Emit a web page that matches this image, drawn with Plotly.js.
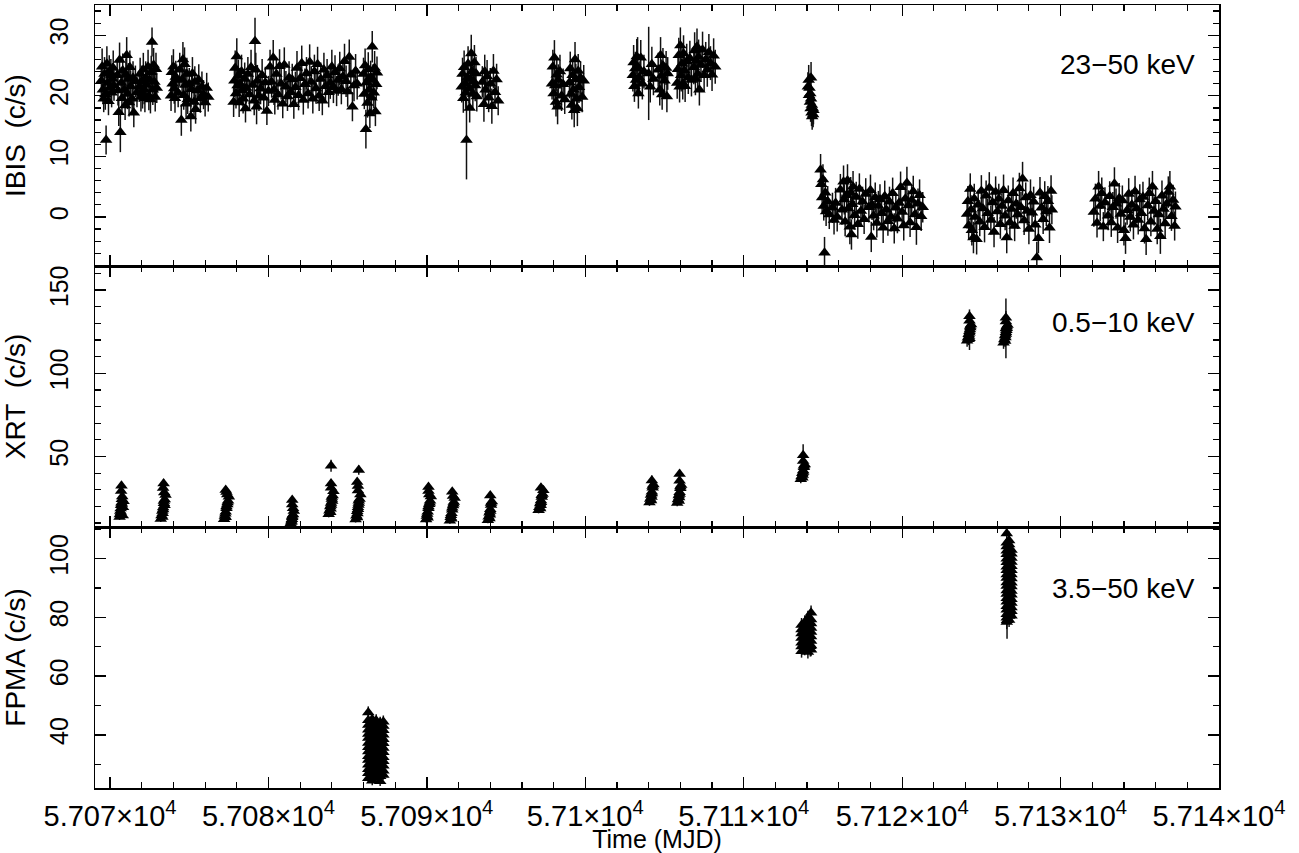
<!DOCTYPE html>
<html>
<head>
<meta charset="utf-8">
<script src="https://cdn.plot.ly/plotly-3.0.1.min.js"></script>
<style>html,body{margin:0;padding:0;background:#fff;}#plot{width:1299px;height:853px;}</style>
</head>
<body>
<div id="plot"></div>
<script>
// ---------------- DATA ----------------
const xTickVals = [57070, 57080, 57090, 57100, 57110, 57120, 57130, 57140];
const xTickText = ['5.707×10<sup>4</sup>', '5.708×10<sup>4</sup>', '5.709×10<sup>4</sup>', '5.71×10<sup>4</sup>',
                   '5.711×10<sup>4</sup>', '5.712×10<sup>4</sup>', '5.713×10<sup>4</sup>', '5.714×10<sup>4</sup>'];
const bandLabels = ['23−50 keV', '0.5−10 keV', '3.5−50 keV'];
const panelTitles = ['IBIS\u00a0 (c/s)', 'XRT\u00a0 (c/s)', 'FPMA (c/s)'];

// INTEGRAL/IBIS 23-50 keV
const ibisTime = [
 57069.45,57069.50,57069.55,57069.60,57069.65,57069.70,57069.75,57069.80,57069.85,57069.90,57069.95,57070.00,57070.05,57070.10,57070.15,57070.20,57070.25,
 57070.45,57070.50,57070.55,57070.60,57070.65,57070.70,57070.75,57070.80,57070.90,57070.95,57071.00,57071.05,57071.10,57071.15,57071.20,57071.25,57071.30,57071.40,57071.45,57071.50,57071.60,57071.70,
 57071.85,57071.90,57071.95,57072.00,57072.05,57072.10,57072.15,57072.20,57072.25,57072.30,57072.40,57072.45,57072.50,57072.55,57072.60,57072.65,57072.70,57072.75,57072.80,57072.85,57072.90,57072.95,
 57073.85,57073.90,57073.95,57074.00,57074.05,57074.10,57074.15,57074.20,57074.30,57074.40,57074.50,57074.55,57074.60,57074.65,57074.70,57074.75,57074.80,57074.85,57074.90,57075.00,57075.10,57075.15,57075.20,57075.30,57075.35,57075.40,57075.50,57075.60,57075.70,57075.80,57075.90,57076.00,57076.10,57076.20,
 57077.80,57077.85,57077.90,57077.95,57078.00,57078.05,57078.10,57078.15,57078.20,57078.30,57078.35,57078.40,57078.50,57078.55,57078.60,57078.70,57078.80,57078.90,57079.00,57079.10,57079.15,57079.20,57079.25,57079.30,57079.40,57079.50,57079.60,57079.70,57079.80,57079.90,
 57080.00,57080.10,57080.20,57080.30,57080.35,57080.40,57080.50,57080.60,57080.70,57080.80,57080.90,57081.00,57081.10,57081.20,57081.30,57081.40,57081.50,57081.60,57081.70,57081.80,57081.90,
 57082.00,57082.10,57082.20,57082.30,57082.40,57082.50,57082.60,57082.70,57082.80,57082.90,57083.00,57083.10,57083.20,57083.30,57083.40,57083.50,57083.60,57083.70,57083.80,57083.90,
 57084.00,57084.10,57084.20,57084.30,57084.40,57084.50,57084.60,57084.70,57084.80,57084.90,57085.00,57085.10,57085.20,57085.30,57085.40,57085.50,57085.60,
 57086.00,57086.05,57086.10,57086.15,57086.20,57086.25,57086.30,57086.35,57086.40,57086.45,57086.50,57086.55,57086.60,57086.65,57086.70,57086.75,57086.80,57086.85,
 57092.20,57092.25,57092.30,57092.35,57092.40,57092.45,57092.50,57092.55,57092.60,57092.65,57092.70,57092.75,57092.80,57092.85,57092.90,57092.95,57093.00,57093.05,57093.10,57093.15,57093.50,57093.60,57093.65,57093.70,57093.80,57093.90,57094.00,57094.10,57094.20,57094.30,57094.40,57094.50,
 57097.90,57097.95,57098.00,57098.05,57098.10,57098.15,57098.20,57098.25,57098.30,57098.40,57098.50,57098.60,57098.70,57099.00,57099.05,57099.10,57099.15,57099.20,57099.25,57099.30,57099.35,57099.40,57099.45,57099.50,57099.55,57099.60,57099.70,57099.80,57099.90,
 57103.00,57103.05,57103.10,57103.15,57103.20,57103.25,57103.30,57103.35,57103.40,57103.50,57103.60,57103.70,57104.00,57104.10,57104.20,57104.30,57104.60,57104.70,57104.75,57104.80,57104.85,57104.90,57105.00,57105.10,57105.15,57105.20,
 57105.80,57105.85,57105.90,57105.95,57106.00,57106.05,57106.10,57106.15,57106.20,57106.25,57106.30,57106.40,57106.50,57106.60,57106.70,
 57106.85,57106.90,57106.95,57107.00,57107.05,57107.10,57107.15,57107.20,57107.30,57107.40,57107.50,57107.60,57107.70,57107.80,57107.90,57108.00,57108.10,57108.20,
 57114.05,57114.10,57114.12,57114.15,57114.18,57114.20,57114.22,57114.25,57114.28,57114.30,57114.32,57114.35,57114.38,57114.40,57114.25,
 57114.85,57114.90,57114.95,57115.00,57115.05,57115.10,57115.15,57115.20,57115.30,57115.40,57115.60,57115.70,57115.80,57115.90,57116.10,57116.20,57116.30,57116.35,57116.40,57116.50,57116.55,57116.60,57116.70,57116.75,57116.80,57116.85,57116.90,
 57117.00,57117.10,57117.20,57117.30,57117.40,57117.50,57117.60,57117.70,57117.90,57118.00,57118.05,57118.10,57118.20,57118.30,57118.40,57118.50,57118.60,57118.70,57118.80,57118.90,
 57119.00,57119.10,57119.20,57119.30,57119.40,57119.50,57119.60,57119.70,57119.80,57119.90,57120.00,57120.10,57120.20,57120.30,57120.40,57120.50,57120.60,57120.70,57120.80,57120.90,57121.00,57121.10,57121.20,57121.30,
 57124.10,57124.15,57124.20,57124.30,57124.35,57124.40,57124.50,57124.55,57124.60,57124.70,57124.80,57124.90,
 57125.00,57125.10,57125.20,57125.30,57125.40,57125.50,57125.60,57125.70,57125.80,57125.90,57126.00,57126.10,57126.20,57126.30,57126.40,57126.50,57126.60,57126.70,57126.80,57126.90,
 57127.00,57127.10,57127.20,57127.30,57127.40,57127.50,57127.60,57127.70,57127.80,57127.90,57128.00,57128.10,57128.20,57128.30,57128.40,57128.50,57128.60,57128.70,57128.80,57128.90,
 57129.00,57129.10,57129.20,57129.30,57129.40,57129.45,
 57132.10,57132.20,57132.30,57132.40,57132.50,57132.60,57132.70,57132.80,
 57133.00,57133.10,57133.20,57133.30,57133.40,57133.50,57133.60,57133.70,57133.80,57133.90,57134.00,57134.10,57134.20,57134.30,57134.40,57134.50,57134.60,57134.70,57134.80,57134.90,
 57135.00,57135.10,57135.20,57135.30,57135.40,57135.50,57135.60,57135.70,57135.80,57135.90,57136.00,57136.10,57136.20,57136.30,57136.40,57136.50,57136.60,57136.70,57136.80,57136.90,
 57137.00,57137.10,57137.20,57137.25
];
const ibisRate = [
 22.5,24.8,21.0,19.5,23.6,20.2,12.7,25.3,22.1,19.1,24.0,21.4,23.3,20.5,22.8,24.6,21.7,
 23.4,20.9,17.3,25.9,14.0,22.1,19.6,24.2,21.0,18.4,23.5,26.7,20.3,22.8,18.9,24.7,21.6,19.5,23.0,17.2,22.4,20.6,
 21.5,23.6,19.8,22.4,20.4,24.3,21.1,19.6,23.0,21.8,24.8,20.0,22.6,19.4,23.9,28.9,21.0,25.1,22.3,19.8,24.4,21.3,
 20.0,23.9,22.0,24.8,21.2,19.6,23.1,22.6,20.5,24.3,16.0,22.7,26.0,20.1,25.2,21.8,18.7,23.6,19.4,22.0,16.6,21.1,23.7,19.0,22.3,17.8,20.9,22.6,19.6,21.5,20.2,18.9,21.3,19.8,
 19.0,22.5,24.6,20.4,26.5,21.7,23.3,18.9,22.0,24.0,20.9,19.5,22.8,17.9,21.3,23.6,20.2,24.7,21.8,19.2,29.0,24.3,18.2,22.5,20.0,21.2,23.4,19.7,22.2,17.5,
 20.8,24.8,22.3,26.3,21.0,19.3,23.6,20.2,24.9,22.0,18.7,25.1,21.5,19.9,23.0,20.6,22.7,18.6,21.4,24.6,20.1,
 22.9,25.4,19.3,21.9,23.7,20.4,25.6,22.3,19.5,24.0,21.2,25.2,20.0,22.8,19.2,24.3,21.6,23.4,20.6,22.1,
 24.8,21.4,23.9,20.8,22.6,24.5,21.1,23.2,25.7,22.4,20.7,26.4,23.5,18.2,21.7,24.1,22.0,
 23.6,20.3,25.0,14.5,22.2,18.8,24.4,21.0,17.1,23.1,19.7,28.1,22.6,20.5,24.6,17.4,21.9,23.8,
 21.5,23.6,19.6,24.7,22.0,20.5,12.7,23.0,25.3,21.2,18.0,22.8,27.0,24.0,20.3,22.4,25.5,21.7,23.7,19.9,22.3,18.6,24.0,21.0,23.2,19.7,22.0,18.3,24.1,20.6,22.7,19.2,
 22.0,24.8,20.4,26.3,21.7,19.0,23.5,18.2,22.6,24.0,20.0,21.9,19.4,22.2,24.5,20.3,18.5,23.4,21.0,17.6,26.0,22.7,19.5,17.9,24.1,21.4,23.0,19.8,22.5,
 23.4,25.5,21.6,24.5,22.6,26.5,24.8,20.4,23.0,26.3,22.0,24.0,23.7,21.5,25.2,22.8,24.3,21.0,26.7,23.3,20.2,25.0,22.5,24.6,19.9,23.7,
 22.1,24.4,26.7,21.5,28.3,23.4,25.3,22.0,27.0,24.2,21.6,25.7,23.0,26.2,22.6,
 24.7,27.5,22.8,25.8,28.1,23.6,26.4,21.0,25.1,27.6,23.4,26.0,24.3,27.2,25.4,23.5,26.6,24.8,
 21.5,22.6,20.1,21.3,19.0,20.4,17.9,19.5,17.2,18.5,16.6,18.0,16.9,17.6,23.0,
 7.8,5.4,3.2,6.2,1.8,-5.9,4.0,0.9,2.6,0.4,1.5,-0.5,2.3,0.0,4.5,1.2,5.8,2.9,-0.8,3.6,6.0,1.4,-1.6,4.0,-2.9,2.1,5.0,
 0.3,3.3,-1.2,4.6,1.0,2.5,-0.4,3.8,1.6,4.4,-3.3,2.0,0.2,3.2,-1.0,1.8,2.9,0.6,-1.8,3.4,
 1.2,-0.7,2.5,0.0,3.9,-1.9,1.5,-0.3,2.3,4.9,0.8,-1.4,3.0,5.6,1.9,-0.9,2.8,4.2,0.4,-1.7,2.2,3.6,0.1,1.6,
 0.5,2.6,-1.4,4.6,1.2,-2.2,-3.4,3.0,0.0,-3.7,2.0,-0.8,
 4.3,1.4,-1.7,3.5,0.6,4.8,-0.5,2.4,-2.5,4.1,0.9,3.0,-1.2,1.8,4.4,0.2,-3.4,2.7,-0.9,1.3,
 3.9,-1.5,2.2,0.4,4.7,1.6,6.3,-0.6,3.2,1.0,-2.0,3.6,0.7,2.5,-1.3,-6.7,-3.5,4.0,1.5,-0.4,
 3.4,0.9,2.6,-1.8,4.3,1.2,
 0.8,3.0,-1.0,5.0,1.8,3.9,-1.6,2.4,
 0.2,3.4,-0.9,1.6,5.5,2.2,-1.8,3.1,0.5,2.7,-2.2,-3.5,1.1,3.8,0.0,2.0,-1.3,4.2,1.4,-0.5,
 2.9,0.6,3.3,-1.9,-3.7,1.9,3.9,-0.8,5.0,1.0,2.6,-2.0,0.4,-3.2,3.5,1.3,-1.1,2.2,4.1,5.0,
 0.1,2.8,-1.5,1.7
];
const ibisErr = [
 2.6,3.0,2.4,2.2,2.8,2.5,2.4,2.9,2.6,2.3,2.7,2.5,2.8,2.4,2.6,2.9,2.5,
 2.7,2.5,2.3,2.9,3.3,2.6,2.4,2.8,2.5,2.4,2.7,3.0,2.5,2.6,2.3,2.8,2.6,2.4,2.7,2.4,2.6,2.5,
 2.5,2.7,2.4,2.6,2.5,2.8,2.5,2.3,2.7,2.6,2.8,2.4,2.6,2.3,2.7,2.4,2.5,2.8,2.6,2.4,2.7,2.5,
 2.5,2.8,2.6,2.9,2.5,2.4,2.7,2.6,2.4,2.8,2.6,2.6,2.9,2.4,2.8,2.6,2.3,2.7,2.4,2.6,2.5,2.5,2.7,2.3,2.6,2.4,2.5,2.6,2.4,2.5,2.4,2.3,2.5,2.4,
 2.5,2.7,2.9,2.5,3.0,2.6,2.7,2.4,2.6,2.8,2.5,2.4,2.7,2.3,2.6,2.8,2.5,2.9,2.6,2.4,3.9,2.8,2.9,2.6,2.5,2.6,2.7,2.4,2.6,2.3,
 2.5,2.8,2.6,2.9,2.5,2.4,2.7,2.5,2.8,2.6,2.4,2.9,2.6,2.4,2.7,2.5,2.6,2.4,2.6,2.8,2.5,
 2.7,2.9,2.4,2.6,2.7,2.5,2.9,2.6,2.4,2.8,2.5,2.9,2.5,2.7,2.4,2.8,2.6,2.7,2.5,2.6,
 2.8,2.6,2.8,2.5,2.6,2.8,2.5,2.7,2.9,2.6,2.5,2.9,2.7,2.4,2.6,2.8,2.6,
 2.7,2.5,2.8,3.2,2.6,2.4,2.8,2.5,2.4,2.7,2.5,2.6,2.6,2.5,2.8,2.4,2.6,2.7,
 2.6,2.7,2.4,2.8,2.6,2.5,6.5,2.7,2.9,2.5,2.4,2.7,3.1,2.8,2.5,2.6,2.9,2.6,2.7,2.5,2.6,2.9,2.8,2.5,2.7,2.4,2.6,2.9,2.8,2.5,2.6,2.4,
 2.6,2.8,2.5,2.9,2.6,2.4,2.7,2.9,2.6,2.8,2.5,2.6,2.4,2.6,2.8,2.5,2.4,2.7,2.6,2.8,2.9,2.6,2.4,2.9,2.8,2.6,2.7,2.5,2.6,
 2.7,2.9,2.6,2.8,2.6,2.9,4.9,2.5,2.7,2.9,2.6,2.8,7.7,2.6,2.9,2.7,2.8,2.6,3.0,2.7,2.5,2.9,2.6,2.8,2.6,2.7,
 2.6,2.8,2.9,2.6,3.0,2.7,2.9,2.6,3.0,2.8,2.6,2.9,2.7,2.9,2.7,
 2.8,3.0,2.7,2.9,3.0,2.7,2.9,2.6,2.8,3.0,2.7,2.9,2.8,3.0,2.8,2.7,2.9,2.8,
 2.4,2.5,2.3,2.4,2.3,2.4,2.2,2.3,2.2,2.3,2.2,2.2,2.1,2.3,2.6,
 2.6,2.5,2.4,2.5,2.4,2.6,2.5,2.4,2.5,2.4,2.5,2.4,2.5,2.4,2.6,2.5,2.7,2.5,2.4,2.6,2.7,2.5,2.9,2.6,2.5,2.5,2.6,
 2.4,2.5,2.4,2.6,2.4,2.5,2.4,2.6,2.5,2.6,2.5,2.5,2.4,2.5,2.4,2.5,2.5,2.4,2.5,2.6,
 2.4,2.4,2.5,2.4,2.6,2.5,2.4,2.4,2.5,2.6,2.4,2.5,2.5,2.7,2.5,2.4,2.5,2.6,2.4,2.9,2.5,2.6,2.4,2.5,
 2.4,2.5,2.4,2.6,2.4,2.5,2.6,2.5,2.4,2.5,2.5,2.4,
 2.6,2.4,2.5,2.5,2.4,2.6,2.4,2.5,2.5,2.6,2.4,2.5,2.4,2.5,2.6,2.4,2.6,2.5,2.4,2.4,
 2.6,2.5,2.5,2.4,2.6,2.5,2.8,2.4,2.5,2.4,2.5,2.6,2.4,2.5,2.4,2.6,2.5,2.6,2.4,2.4,
 2.5,2.4,2.5,2.5,2.6,2.4,
 2.4,2.5,2.4,2.6,2.5,2.6,2.4,2.5,
 2.4,2.5,2.4,2.5,2.7,2.5,2.5,2.5,2.4,2.5,2.5,2.6,2.4,2.6,2.4,2.5,2.4,2.6,2.4,2.4,
 2.5,2.4,2.5,2.5,2.6,2.5,2.6,2.4,2.6,2.4,2.5,2.5,2.4,2.9,2.5,2.4,2.4,2.5,2.6,2.6,
 2.4,2.5,2.4,2.5
];

// Swift/XRT 0.5-10 keV
const xrtTime = [
 57070.60,57070.62,57070.65,57070.67,57070.70,57070.72,57070.75,57070.77,57070.80,57070.82,57070.85,57070.70,57070.72,57070.68,57070.74,
 57073.20,57073.25,57073.30,57073.35,57073.40,57073.45,57073.50,57073.30,57073.35,57073.40,57073.42,57073.35,57073.38,57073.32,57073.44,
 57077.20,57077.25,57077.30,57077.35,57077.40,57077.45,57077.50,57077.30,57077.35,57077.40,57077.35,57077.30,57077.28,57077.42,
 57081.40,57081.45,57081.50,57081.55,57081.60,57081.45,57081.50,57081.55,57081.50,57081.50,57081.48,
 57083.80,57083.85,57083.90,57083.95,57084.00,57084.05,57084.10,57083.90,57083.95,57084.00,57083.95,57083.95,57083.95,57083.92,57084.02,
 57085.50,57085.55,57085.60,57085.65,57085.70,57085.75,57085.80,57085.60,57085.65,57085.70,57085.65,57085.65,57085.60,57085.70,57085.62,57085.68,
 57089.95,57090.00,57090.05,57090.10,57090.15,57090.20,57090.25,57090.05,57090.10,57090.15,57090.10,57090.10,57090.02,57090.18,
 57091.45,57091.50,57091.55,57091.60,57091.65,57091.70,57091.75,57091.55,57091.60,57091.65,57091.60,57091.52,57091.68,
 57093.85,57093.90,57093.95,57094.00,57094.05,57094.10,57093.95,57094.00,57094.05,57094.00,57093.98,
 57097.05,57097.10,57097.15,57097.20,57097.25,57097.30,57097.35,57097.15,57097.20,57097.25,57097.20,57097.18,
 57104.05,57104.10,57104.15,57104.20,57104.25,57104.30,57104.15,57104.20,57104.25,57104.20,57104.18,
 57105.80,57105.85,57105.90,57105.95,57106.00,57106.05,57105.90,57105.95,57106.00,57105.95,57105.95,57105.92,
 57113.60,57113.65,57113.70,57113.75,57113.80,57113.85,57113.70,57113.75,57113.80,57113.75,57113.75,57113.72,
 57124.10,57124.15,57124.20,57124.25,57124.30,57124.35,57124.20,57124.25,57124.30,57124.25,57124.25,57124.25,57124.22,57124.28,
 57126.40,57126.45,57126.50,57126.55,57126.60,57126.65,57126.50,57126.55,57126.60,57126.55,57126.55,57126.55,57126.52,57126.58
];
const xrtRate = [
 13.6,15.1,17.2,18.7,20.6,22.2,24.3,25.9,14.5,19.4,23.1,29.2,32.4,16.3,21.4,
 12.4,14.5,17.2,19.3,21.9,24.1,26.8,13.6,18.1,23.2,28.3,31.0,33.8,15.8,20.6,
 12.3,14.2,16.7,18.8,21.2,23.4,25.8,13.4,19.9,27.2,28.7,29.9,15.5,22.3,
 9.7,11.3,13.4,15.1,17.2,10.6,14.2,18.8,21.1,23.8,12.3,
 15.3,17.4,19.9,22.0,24.5,26.6,29.1,16.5,20.9,25.7,31.2,33.8,44.4,18.6,23.2,
 12.1,14.4,17.1,19.4,22.1,24.4,27.1,13.3,18.2,23.4,29.5,32.3,34.7,41.8,15.7,20.8,
 12.1,14.2,16.7,18.8,21.3,23.4,25.9,13.2,19.9,27.1,29.2,31.7,15.4,22.2,
 11.3,13.4,15.9,18.0,20.5,22.6,25.1,12.5,19.1,26.2,28.8,14.6,21.6,
 11.6,13.7,16.2,18.3,20.8,22.9,12.7,17.2,22.0,26.5,14.9,
 17.7,19.5,21.7,23.5,25.7,27.5,29.7,18.7,22.5,26.7,31.2,20.6,
 22.4,24.4,26.8,28.8,31.2,33.2,23.5,27.7,32.3,35.6,25.6,
 22.1,24.1,26.5,28.5,30.9,32.9,23.2,27.4,32.0,35.4,39.4,25.3,
 36.3,37.9,39.9,41.5,43.5,45.1,37.2,40.6,44.4,47.3,50.8,38.8,
 119.5,121.3,123.5,125.3,127.5,129.3,120.5,124.3,128.5,131.6,134.3,121.0,122.4,126.4,
 118.3,120.3,122.7,124.7,127.1,129.1,119.4,123.6,128.2,131.2,133.4,127.0,121.5,125.9
];
const xrtErr = [
 1.8,1.9,2.0,2.0,2.1,2.1,2.2,2.2,1.9,2.0,2.1,2.3,2.4,1.9,2.1,
 1.8,1.9,2.0,2.0,2.1,2.1,2.2,1.8,2.0,2.1,2.3,2.3,2.4,1.9,2.1,
 1.7,1.8,1.9,2.0,2.0,2.1,2.2,1.8,2.0,2.2,2.2,2.3,1.9,2.1,
 1.6,1.7,1.8,1.9,1.9,1.7,1.8,2.0,2.1,2.2,1.7,
 1.9,2.0,2.1,2.1,2.2,2.3,2.3,1.9,2.1,2.2,2.4,2.5,3.6,2.0,2.2,
 1.8,1.9,2.0,2.0,2.1,2.2,2.2,1.8,2.0,2.1,2.3,2.4,2.5,2.8,1.9,2.1,
 1.8,1.9,2.0,2.0,2.1,2.1,2.2,1.8,2.0,2.2,2.3,2.4,1.9,2.1,
 1.7,1.8,1.9,2.0,2.0,2.1,2.2,1.8,2.0,2.2,2.3,1.9,2.1,
 1.7,1.8,1.9,2.0,2.0,2.1,1.8,1.9,2.1,2.2,1.8,
 1.9,2.0,2.0,2.1,2.2,2.2,2.3,1.9,2.1,2.2,2.4,2.0,
 2.1,2.1,2.2,2.3,2.3,2.4,2.1,2.2,2.4,3.0,2.2,
 2.1,2.1,2.2,2.3,2.3,2.4,2.1,2.2,2.4,2.5,2.7,2.2,
 2.4,2.5,2.5,2.6,2.6,2.7,2.4,2.6,2.7,2.8,6.5,2.5,
 3.6,3.7,3.7,3.8,3.8,3.9,3.6,3.8,3.9,4.0,4.1,7.0,3.7,3.8,
 3.6,3.7,3.7,3.8,3.9,3.9,3.6,3.8,3.9,4.0,4.1,18.0,3.7,3.8
];

// NuSTAR/FPMA 3.5-50 keV
const fpmaTime = [
 57086.30,57086.30,57086.30,57086.30,57086.30,57086.30,57086.30,57086.30,57086.30,57086.30,57086.30,57086.30,57086.30,57086.30,57086.30,
 57086.55,57086.55,57086.55,57086.55,57086.55,57086.55,57086.55,57086.55,57086.55,57086.55,57086.55,57086.55,57086.55,57086.55,57086.55,
 57086.80,57086.80,57086.80,57086.80,57086.80,57086.80,57086.80,57086.80,57086.80,57086.80,57086.80,57086.80,57086.80,57086.80,
 57087.05,57087.05,57087.05,57087.05,57087.05,57087.05,57087.05,57087.05,57087.05,57087.05,57087.05,57087.05,57087.05,57087.05,
 57087.25,57087.25,57087.25,57087.25,57087.25,57087.25,57087.25,57087.25,57087.25,57087.25,57087.25,57087.25,57087.25,
 57113.65,57113.65,57113.65,57113.65,57113.65,57113.65,57113.65,
 57113.85,57113.85,57113.85,57113.85,57113.85,57113.85,57113.85,
 57114.05,57114.05,57114.05,57114.05,57114.05,57114.05,57114.05,57114.05,57114.05,
 57114.25,57114.25,57114.25,57114.25,57114.25,57114.25,57114.25,57114.25,57114.25,
 57114.20,
 57126.60,57126.60,57126.60,57126.60,57126.60,57126.60,57126.60,57126.60,57126.60,57126.60,57126.60,57126.60,57126.60,57126.60,57126.60,57126.60,57126.60,57126.60,57126.60,57126.60,57126.60,57126.60,
 57126.75,57126.75,57126.75,57126.75,57126.75,57126.75,57126.75,57126.75,57126.75,57126.75,57126.75,57126.75,57126.75,57126.75,57126.75,57126.75,57126.75,57126.75,57126.75,57126.75,57126.75,
 57126.90,57126.90,57126.90,57126.90,57126.90,57126.90,57126.90,57126.90,57126.90,57126.90,57126.90,57126.90,57126.90,57126.90,57126.90,57126.90,57126.90,
 57126.62
];
const fpmaRate = [
 25.2,26.9,28.3,29.8,31.4,32.7,34.3,35.8,37.2,38.9,40.3,41.7,43.4,45.0,47.6,
 24.4,26.1,27.6,29.2,30.7,32.1,33.6,35.2,36.6,38.1,39.7,41.2,42.6,44.2,45.3,
 25.6,27.2,28.8,30.2,31.9,33.3,34.8,36.3,37.9,39.4,40.8,42.3,43.8,44.9,
 24.2,25.9,27.4,28.9,30.5,32.0,33.5,35.0,36.6,38.0,39.6,41.0,42.6,44.1,
 26.3,27.8,29.5,31.0,32.4,34.1,35.5,37.1,38.5,40.0,41.6,43.0,44.5,
 68.5,70.1,71.4,73.0,74.5,75.9,77.4,
 69.3,70.8,72.2,73.8,75.2,76.8,78.3,
 68.2,69.7,71.2,72.7,74.1,75.6,77.1,78.7,79.8,
 69.0,70.4,72.0,73.5,75.0,76.4,77.9,79.3,81.6,
 70.2,
 78.4,79.9,81.1,82.6,83.8,85.3,86.5,88.0,89.2,90.7,91.9,93.4,94.6,96.1,97.3,98.8,100.0,101.5,102.7,104.2,105.4,108.6,
 79.1,80.5,81.8,83.2,84.5,85.9,87.2,88.6,89.9,91.3,92.6,94.0,95.3,96.7,98.0,99.4,100.7,102.1,103.4,104.8,106.2,
 80.6,82.1,83.4,84.9,86.2,87.7,89.0,90.5,91.8,93.3,94.6,96.1,97.4,98.9,100.2,101.7,103.0,
 79.0
];
const fpmaErr = [
 1.6,1.6,1.7,1.7,1.7,1.8,1.8,1.8,1.9,1.9,1.9,2.0,2.0,2.0,2.1,
 1.6,1.6,1.7,1.7,1.7,1.8,1.8,1.8,1.9,1.9,1.9,2.0,2.0,2.0,2.1,
 1.6,1.6,1.7,1.7,1.8,1.8,1.8,1.9,1.9,1.9,2.0,2.0,2.0,2.1,
 1.6,1.6,1.7,1.7,1.8,1.8,1.8,1.9,1.9,1.9,2.0,2.0,2.0,2.1,
 1.6,1.7,1.7,1.8,1.8,1.8,1.9,1.9,1.9,2.0,2.0,2.0,2.1,
 2.2,2.2,2.3,2.3,2.3,2.4,2.4,
 2.2,2.2,2.3,2.3,2.3,2.4,2.4,
 2.2,2.2,2.3,2.3,2.3,2.4,2.4,2.4,2.5,
 2.2,2.2,2.3,2.3,2.3,2.4,2.4,2.4,2.5,
 3.5,
 2.4,2.4,2.5,2.5,2.5,2.6,2.6,2.6,2.7,2.7,2.7,2.8,2.8,2.8,2.9,2.9,2.9,3.0,3.0,3.0,3.1,2.4,
 2.4,2.4,2.5,2.5,2.5,2.6,2.6,2.6,2.7,2.7,2.7,2.8,2.8,2.8,2.9,2.9,2.9,3.0,3.0,3.0,3.1,
 2.4,2.5,2.5,2.5,2.6,2.6,2.7,2.7,2.7,2.8,2.8,2.8,2.9,2.9,3.0,3.0,3.0,
 6.3
];

// ---------------- PLOT ----------------
const FONT = 'Liberation Sans, Arial, Helvetica, sans-serif';
function errTrace(t, r, e, xa, ya) {
  return {
    type: 'scatter', mode: 'markers', x: t, y: r, xaxis: xa, yaxis: ya,
    marker: {symbol: 'triangle-up', size: 11, color: 'black', line: {width: 0}},
    error_y: {type: 'data', array: e, visible: true, color: '#111', thickness: 1.5, width: 0},
    hoverinfo: 'x+y'
  };
}
const traces = [
  errTrace(ibisTime, ibisRate, ibisErr, 'x3', 'y3'),
  errTrace(xrtTime, xrtRate, xrtErr, 'x2', 'y2'),
  errTrace(fpmaTime, fpmaRate, fpmaErr, 'x', 'y')
];

function xAxis(anchor, labels) {
  const a = {
    anchor: anchor, domain: [0, 1], range: [57069.05, 57140],
    tickmode: 'array', tickvals: xTickVals, ticktext: xTickText,
    ticks: 'inside', ticklen: 11, tickwidth: 1.3, tickcolor: 'black',
    minor: {tickmode: 'linear', tick0: 57070, dtick: 2, ticks: 'inside', ticklen: 6, tickwidth: 1.2, tickcolor: 'black', showgrid: false},
    mirror: 'allticks', showline: true, linecolor: 'black', linewidth: 1.5,
    showgrid: false, zeroline: false, showticklabels: labels,
    tickfont: {family: FONT, size: 29, color: 'black'}, ticklabelstandoff: 2
  };
  if (labels) a.title = {text: 'Time (MJD)', font: {family: FONT, size: 25, color: 'black'}, standoff: 0};
  else a.matches = 'x';
  return a;
}
function yAxis(anchor, dom, rng, dt, mdt, title) {
  return {
    anchor: anchor, domain: dom, range: rng, tickmode: 'linear', tick0: 0, dtick: dt,
    ticks: 'inside', ticklen: 11, tickwidth: 1.3, tickcolor: 'black',
    minor: {tickmode: 'linear', tick0: 0, dtick: mdt, ticks: 'inside', ticklen: 6, tickwidth: 1.2, tickcolor: 'black', showgrid: false},
    mirror: 'allticks', showline: true, linecolor: 'black', linewidth: 1.5,
    showgrid: false, zeroline: false, tickangle: -90,
    tickfont: {family: FONT, size: 25, color: 'black'}, ticklabelstandoff: 16,
    title: {text: title, font: {family: FONT, size: 28, color: 'black'}, standoff: 14}
  };
}
const layout = {
  width: 1299, height: 853,
  margin: {l: 95, r: 80, t: 5, b: 65},
  paper_bgcolor: 'white', plot_bgcolor: 'white', showlegend: false,
  font: {family: FONT, color: 'black'},
  xaxis: xAxis('y', true),
  xaxis2: xAxis('y2', false),
  xaxis3: xAxis('y3', false),
  yaxis: yAxis('x', [0, 1/3], [21.9, 110.8], 20, 10, panelTitles[2]),
  yaxis2: yAxis('x2', [1/3, 2/3], [7.6, 164.5], 50, 10, panelTitles[1]),
  yaxis3: yAxis('x3', [2/3, 1], [-8.1, 35.0], 10, 2, panelTitles[0]),
  annotations: [
    {text: bandLabels[0], xref: 'paper', yref: 'paper', x: 0.9804, y: 0.9234, xanchor: 'right', yanchor: 'middle', showarrow: false, font: {family: FONT, size: 28, color: 'black'}},
    {text: bandLabels[1], xref: 'paper', yref: 'paper', x: 0.9804, y: 0.595, xanchor: 'right', yanchor: 'middle', showarrow: false, font: {family: FONT, size: 28, color: 'black'}},
    {text: bandLabels[2], xref: 'paper', yref: 'paper', x: 0.9804, y: 0.2554, xanchor: 'right', yanchor: 'middle', showarrow: false, font: {family: FONT, size: 28, color: 'black'}}
  ]
};
Plotly.newPlot('plot', traces, layout, {displayModeBar: false, staticPlot: true});
</script>
</body>
</html>
